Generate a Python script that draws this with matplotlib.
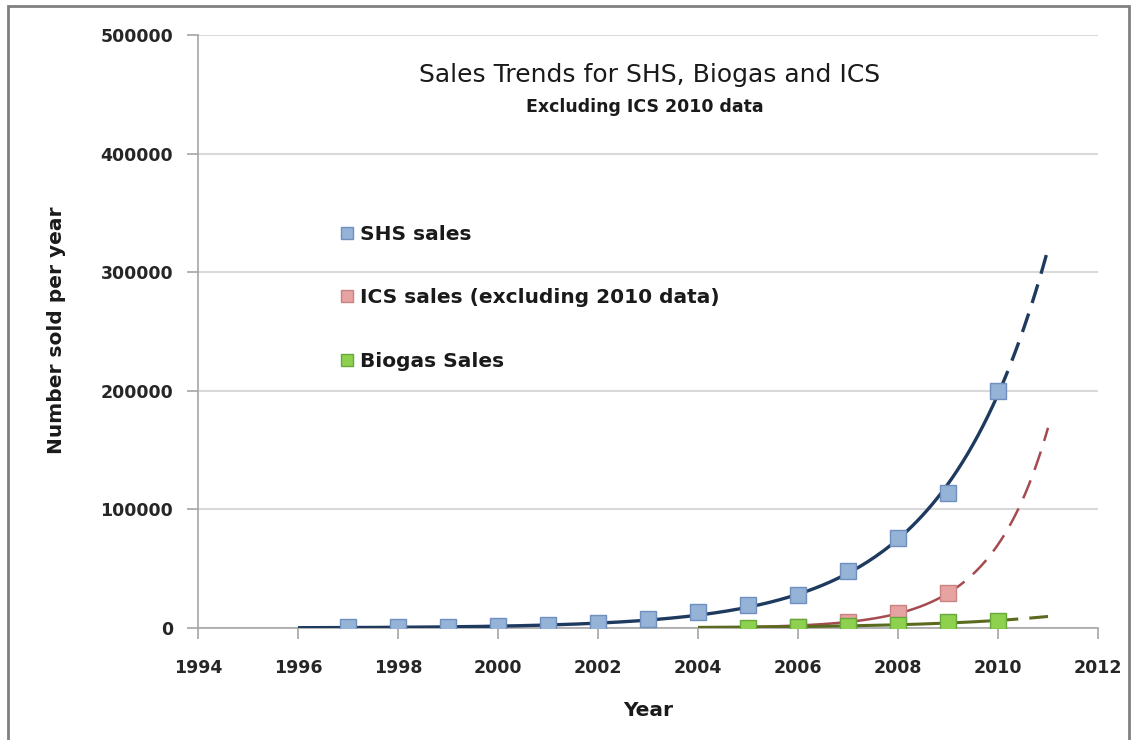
import numpy as np
import matplotlib.pyplot as plt
from matplotlib.patches import Rectangle
from matplotlib.ticker import FuncFormatter

plt.rcParams["font.family"] = ["DejaVu Sans"]

# values
shs_years = list(range(1997, 2011))
shs_sales = [500, 700, 1200, 1500, 2500, 4000, 7300, 13800, 19000, 28000, 48000, 76000, 114000, 200000]

ics_years = [2006, 2007, 2008, 2009]
ics_sales = [500, 5000, 12400, 29300]

biogas_years = [2005, 2006, 2007, 2008, 2009, 2010]
biogas_sales = [300, 800, 1300, 2500, 5000, 5900]

x_ticks = list(range(1994, 2013, 2))
y_ticks = list(range(0, 500001, 100000))
forecast_end = 2011


def exp_trend(years, values, end_year):
    # exponential trendline, one year back-cast, forecast to end_year
    x = np.asarray(years, dtype=float) - 2000
    y = np.asarray(values, dtype=float)
    slope, icpt = np.polyfit(x, np.log(y), 1, w=y)
    xs = np.linspace(x[0] - 1, end_year - 2000, 300)
    return xs + 2000, np.exp(icpt + slope * xs)


W, H = 1131, 740
fig = plt.figure(figsize=(W / 100, H / 100), dpi=100)
ax = fig.add_axes([198 / W, 1 - 628 / H, 900 / W, 593 / H])

# outer frame
fig.patches.append(Rectangle((8 / W, -0.05), 1121 / W, 1.05 - 6 / H, transform=fig.transFigure,
                             fill=False, edgecolor="#808080", linewidth=2))

series = [
    (shs_years, shs_sales, "SHS sales", "#95B3D7", "#6F8FBF", "#1F3A5F", 2.4),
    (ics_years, ics_sales, "ICS sales (excluding 2010 data)", "#E6A3A2", "#C98382", "#A54B4F", 1.8),
    (biogas_years, biogas_sales, "Biogas Sales", "#8DD14F", "#67A83A", "#5A6B1F", 2.2),
]

handles = []
for years, vals, label, face, edge, tcol, lw in series:
    tx, ty = exp_trend(years, vals, forecast_end)
    solid = tx <= years[-1]
    ax.plot(tx[solid], ty[solid], color=tcol, lw=lw, zorder=3, solid_capstyle="butt")
    ax.plot(tx[~solid], ty[~solid], color=tcol, lw=lw, zorder=3,
            linestyle=(0, (14 / lw, 8 / lw)), dash_capstyle="butt")
    h, = ax.plot(years, vals, linestyle="none", marker="s", markersize=12,
                 markerfacecolor=face, markeredgecolor=edge, markeredgewidth=1, zorder=4, label=label)
    handles.append(h)

ax.set_xlim(1994, 2012)
ax.set_ylim(0, 500000)
ax.set_xticks(x_ticks)
ax.set_yticks(y_ticks)
ax.yaxis.set_major_formatter(FuncFormatter(lambda v, p: f"{int(v)}"))
ax.grid(axis="y", color="#D9D9D9", linewidth=1.5)
ax.set_axisbelow(True)

for s in ["top", "right"]:
    ax.spines[s].set_visible(False)
for s in ["left", "bottom"]:
    ax.spines[s].set_color("#A6A6A6")
    ax.spines[s].set_linewidth(1.2)

ax.tick_params(axis="both", direction="out", length=8, width=1.2, color="#A6A6A6",
               labelsize=12.5, labelcolor="#262626")
ax.tick_params(axis="y", pad=10)
ax.tick_params(axis="x", pad=14)
for lbl in ax.get_xticklabels() + ax.get_yticklabels():
    lbl.set_fontweight("bold")

fig.text(650 / W, 1 - 75 / H, "Sales Trends for SHS, Biogas and ICS", ha="center", va="center",
         fontsize=18, color="#1A1A1A")
fig.text(645 / W, 1 - 107 / H, "Excluding ICS 2010 data", ha="center", va="center",
         fontsize=12.5, fontweight="bold", color="#1A1A1A")
fig.text(57 / W, 1 - 330 / H, "Number sold per year", rotation=90, ha="center", va="center",
         fontsize=14.5, fontweight="bold", color="#1A1A1A")
fig.text(648 / W, 1 - 711 / H, "Year", ha="center", va="center",
         fontsize=14.5, fontweight="bold", color="#1A1A1A")

leg = ax.legend(handles=handles, loc="upper left", bbox_to_anchor=(323 / W, 1 - 207 / H),
                bbox_transform=fig.transFigure, frameon=False, markerscale=0.7,
                handlelength=0.6, handletextpad=0.35, labelspacing=2.2,
                prop={"size": 14.5, "weight": "bold"})
for t in leg.get_texts():
    t.set_color("#1A1A1A")

fig.savefig("out.png", dpi=100)
